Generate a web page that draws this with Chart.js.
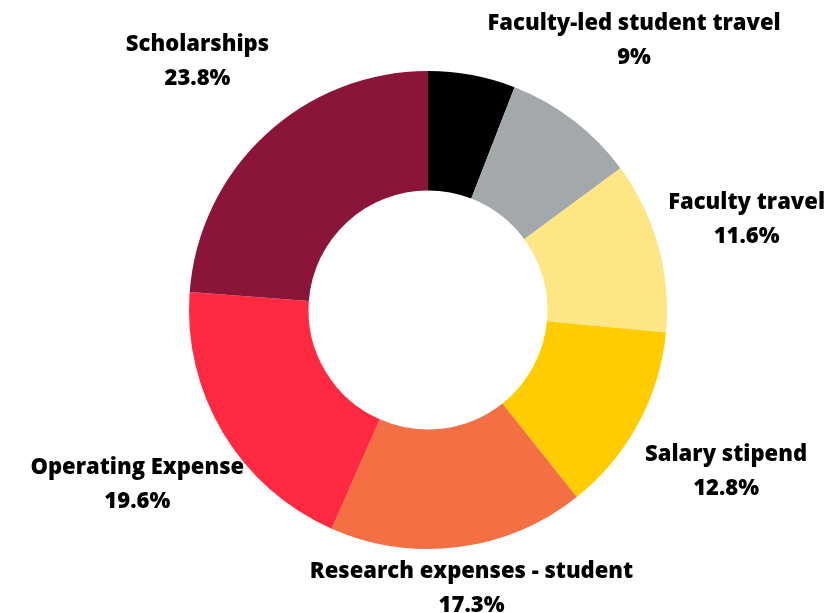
<!DOCTYPE html>
<html>
<head>
<meta charset="utf-8">
<script src="https://cdn.jsdelivr.net/npm/chart.js@4"></script>
<style>
  html, body { margin: 0; padding: 0; background: #fff; }
  #wrap { width: 827px; height: 613px; }
</style>
</head>
<body>
<div id="wrap"><canvas id="budgetChart"></canvas></div>
<script>
// slices clockwise from 12 o'clock; first one has no label in the original
const categories = ['', 'Faculty-led student travel', 'Faculty travel', 'Salary stipend',
    'Research expenses - student', 'Operating Expense', 'Scholarships'];
const shares = [5.9, 9, 11.6, 12.8, 17.3, 19.6, 23.8];
const shareLabels = ['', '9%', '11.6%', '12.8%', '17.3%', '19.6%', '23.8%'];
const sliceColors = ['#000000', '#A3A8AA', '#FEE685', '#FFCC00', '#F46F44', '#FF2A41', '#8A1538'];

// outside labels placed at each arc's middle angle, kept inside the canvas
const outsideLabels = {
    id: 'outsideLabels',
    afterDraw(chart) {
        const c = chart.ctx;
        const meta = chart.getDatasetMeta(0);
        c.save();
        c.font = '800 22px "Open Sans", sans-serif';
        c.fillStyle = '#000';
        c.textAlign = 'center';
        c.textBaseline = 'middle';
        meta.data.forEach((arc, i) => {
            if (!categories[i]) return;
            const mid = (arc.startAngle + arc.endAngle) / 2;
            const r = arc.outerRadius + 100;
            const half = c.measureText(categories[i]).width / 2;
            let x = arc.x + Math.cos(mid) * r;
            let y = arc.y + Math.sin(mid) * r;
            x = Math.max(half + 2, Math.min(x, chart.width - half - 2));
            y = Math.min(y, chart.height - 24);
            c.fillText(categories[i], x, y - 17);
            c.fillText(shareLabels[i], x, y + 17);
        });
        c.restore();
    }
};

const ctx = document.getElementById('budgetChart').getContext('2d');
new Chart(ctx, {
    type: 'doughnut',
    data: {
        labels: categories,
        datasets: [{
            data: shares,
            backgroundColor: sliceColors,
            borderWidth: 0
        }]
    },
    options: {
        responsive: true,
        maintainAspectRatio: false,
        animation: false,
        cutout: '50%',
        layout: { padding: { top: 71, bottom: 64, left: 29, right: 0 } },
        plugins: {
            legend: { display: false },
            tooltip: { enabled: false }
        }
    },
    plugins: [outsideLabels]
});
</script>
</body>
</html>
